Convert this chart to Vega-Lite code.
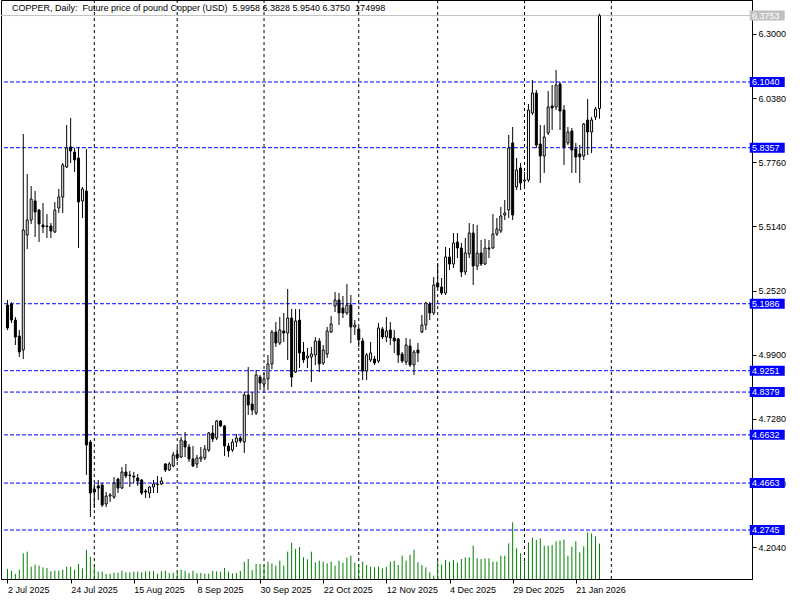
{
 "$schema": "https://vega.github.io/schema/vega-lite/v6.json",
 "width": 751,
 "height": 579,
 "autosize": {"type": "none"},
 "padding": {"left": 1, "top": 0, "right": 48, "bottom": 21},
 "background": "white",
 "config": {"view": {"stroke": "black", "strokeWidth": 1}, "font": "Liberation Sans"},
 "datasets": {
  "caption": [{"t": "COPPER, Daily:\u00a0 Future price of pound Copper (USD)\u00a0 5.9958 6.3828 5.9540 6.3750\u00a0 174998"}],
  "grid": [{"g": 22}, {"g": 43}, {"g": 65}, {"g": 89}, {"g": 109}, {"g": 131}, {"g": 153}],
  "levels": [
   {"v": 6.3753, "k": "last"}, {"v": 6.1040, "k": "level"}, {"v": 5.8357, "k": "level"}, {"v": 5.1986, "k": "level"},
   {"v": 4.9251, "k": "level"}, {"v": 4.8379, "k": "level"}, {"v": 4.6632, "k": "level"}, {"v": 4.4663, "k": "level"}, {"v": 4.2745, "k": "level"}
  ],
  "bars": [
{"i":0,"o":5.1934,"h":5.2138,"l":5.0913,"c":5.0995,"v":49570},
{"i":1,"o":5.1975,"h":5.2057,"l":5.1199,"c":5.1321,"v":41308},
{"i":2,"o":5.1321,"h":5.1444,"l":5.0301,"c":5.0628,"v":24785},
{"i":3,"o":5.0668,"h":5.0913,"l":4.9810,"c":5.0015,"v":46265},
{"i":4,"o":5.0096,"h":5.8916,"l":4.9729,"c":5.4996,"v":127228},
{"i":5,"o":5.4792,"h":5.7283,"l":5.4221,"c":5.5405,"v":135490},
{"i":6,"o":5.5405,"h":5.6793,"l":5.5241,"c":5.6262,"v":61136},
{"i":7,"o":5.6181,"h":5.6589,"l":5.4710,"c":5.5731,"v":71050},
{"i":8,"o":5.5813,"h":5.5854,"l":5.4506,"c":5.5241,"v":66093},
{"i":9,"o":5.5201,"h":5.6099,"l":5.4874,"c":5.5119,"v":57831},
{"i":10,"o":5.5160,"h":5.5650,"l":5.4670,"c":5.5140,"v":54527},
{"i":11,"o":5.5160,"h":5.5282,"l":5.4670,"c":5.4956,"v":38004},
{"i":12,"o":5.4915,"h":5.6140,"l":5.4874,"c":5.5813,"v":41308},
{"i":13,"o":5.5895,"h":5.6671,"l":5.5691,"c":5.6344,"v":41308},
{"i":14,"o":5.6344,"h":5.7732,"l":5.5691,"c":5.7651,"v":46265},
{"i":15,"o":5.7569,"h":5.9284,"l":5.7528,"c":5.8345,"v":61136},
{"i":16,"o":5.8386,"h":5.9570,"l":5.7732,"c":5.8222,"v":61136},
{"i":17,"o":5.8181,"h":5.8345,"l":5.7365,"c":5.7855,"v":46265},
{"i":18,"o":5.7936,"h":5.8386,"l":5.4261,"c":5.6140,"v":74354},
{"i":19,"o":5.6181,"h":5.6752,"l":5.5486,"c":5.6671,"v":52874},
{"i":20,"o":5.6589,"h":5.8304,"l":4.4992,"c":4.6217,"v":145403},
{"i":21,"o":4.6340,"h":4.6421,"l":4.3277,"c":4.4257,"v":110705},
{"i":22,"o":4.4421,"h":4.4625,"l":4.3645,"c":4.4298,"v":61136},
{"i":23,"o":4.4543,"h":4.4788,"l":4.3971,"c":4.4461,"v":36351},
{"i":24,"o":4.4584,"h":4.4666,"l":4.3686,"c":4.3767,"v":36351},
{"i":25,"o":4.3808,"h":4.4298,"l":4.3686,"c":4.4135,"v":24785},
{"i":26,"o":4.4135,"h":4.4257,"l":4.3890,"c":4.4176,"v":26437},
{"i":27,"o":4.4094,"h":4.4911,"l":4.4012,"c":4.4666,"v":31394},
{"i":28,"o":4.4829,"h":4.4870,"l":4.4257,"c":4.4461,"v":31394},
{"i":29,"o":4.4461,"h":4.5319,"l":4.4421,"c":4.5115,"v":41308},
{"i":30,"o":4.5115,"h":4.5441,"l":4.4870,"c":4.4952,"v":33046},
{"i":31,"o":4.4992,"h":4.5155,"l":4.4502,"c":4.4972,"v":33046},
{"i":32,"o":4.4952,"h":4.5115,"l":4.4666,"c":4.4911,"v":36351},
{"i":33,"o":4.4870,"h":4.5033,"l":4.4543,"c":4.4747,"v":36351},
{"i":34,"o":4.4788,"h":4.4829,"l":4.4176,"c":4.4257,"v":33046},
{"i":35,"o":4.4339,"h":4.4421,"l":4.4053,"c":4.4298,"v":38004},
{"i":36,"o":4.4257,"h":4.4543,"l":4.4053,"c":4.4502,"v":38004},
{"i":37,"o":4.4502,"h":4.4788,"l":4.4257,"c":4.4625,"v":39655},
{"i":38,"o":4.4625,"h":4.4952,"l":4.4257,"c":4.4604,"v":26437},
{"i":39,"o":4.4625,"h":4.4911,"l":4.4584,"c":4.4747,"v":38004},
{"i":40,"o":4.5441,"h":4.5482,"l":4.5115,"c":4.5197,"v":41308},
{"i":41,"o":4.5197,"h":4.5523,"l":4.5155,"c":4.5441,"v":29741},
{"i":42,"o":4.5360,"h":4.5932,"l":4.5319,"c":4.5809,"v":31394},
{"i":43,"o":4.5850,"h":4.6135,"l":4.5564,"c":4.5687,"v":33046},
{"i":44,"o":4.5727,"h":4.6544,"l":4.5687,"c":4.6421,"v":46265},
{"i":45,"o":4.6381,"h":4.6748,"l":4.5727,"c":4.6135,"v":41308},
{"i":46,"o":4.6135,"h":4.6258,"l":4.5523,"c":4.5646,"v":29741},
{"i":47,"o":4.5646,"h":4.6176,"l":4.5319,"c":4.5360,"v":41308},
{"i":48,"o":4.5441,"h":4.5809,"l":4.5278,"c":4.5687,"v":28089},
{"i":49,"o":4.5646,"h":4.6135,"l":4.5523,"c":4.5727,"v":29741},
{"i":50,"o":4.5687,"h":4.6217,"l":4.5605,"c":4.6054,"v":26437},
{"i":51,"o":4.6013,"h":4.6748,"l":4.5932,"c":4.6707,"v":26437},
{"i":52,"o":4.6707,"h":4.7034,"l":4.6340,"c":4.6462,"v":39655},
{"i":53,"o":4.6503,"h":4.7238,"l":4.6421,"c":4.7197,"v":38004},
{"i":54,"o":4.7197,"h":4.7238,"l":4.6952,"c":4.6993,"v":36351},
{"i":55,"o":4.6993,"h":4.7034,"l":4.5768,"c":4.6176,"v":54527},
{"i":56,"o":4.6176,"h":4.6299,"l":4.5727,"c":4.5972,"v":36351},
{"i":57,"o":4.6013,"h":4.6462,"l":4.5932,"c":4.6340,"v":28089},
{"i":58,"o":4.6340,"h":4.6666,"l":4.6135,"c":4.6503,"v":29741},
{"i":59,"o":4.6503,"h":4.6585,"l":4.6299,"c":4.6381,"v":39655},
{"i":60,"o":4.6340,"h":4.8381,"l":4.5891,"c":4.8259,"v":85920},
{"i":61,"o":4.8259,"h":4.9402,"l":4.7442,"c":4.7851,"v":99138},
{"i":62,"o":4.7891,"h":4.8381,"l":4.7442,"c":4.7646,"v":44612},
{"i":63,"o":4.7524,"h":4.9280,"l":4.7442,"c":4.9076,"v":74354},
{"i":64,"o":4.8994,"h":4.9076,"l":4.8463,"c":4.8749,"v":74354},
{"i":65,"o":4.8708,"h":4.9157,"l":4.8463,"c":4.8912,"v":66093},
{"i":66,"o":4.8912,"h":4.9892,"l":4.8463,"c":4.9525,"v":85920},
{"i":67,"o":4.9525,"h":5.0913,"l":4.9320,"c":5.0831,"v":77658},
{"i":68,"o":5.0831,"h":5.1240,"l":5.0219,"c":5.0382,"v":66093},
{"i":69,"o":5.0382,"h":5.1444,"l":5.0301,"c":5.0913,"v":90877},
{"i":70,"o":5.0872,"h":5.1607,"l":5.0423,"c":5.0791,"v":66093},
{"i":71,"o":5.0791,"h":5.2587,"l":4.9688,"c":5.1403,"v":135490},
{"i":72,"o":5.1403,"h":5.1771,"l":4.8586,"c":4.8994,"v":180101},
{"i":73,"o":4.9198,"h":5.1771,"l":4.9157,"c":5.1281,"v":148707},
{"i":74,"o":5.1321,"h":5.1771,"l":4.9361,"c":4.9974,"v":158621},
{"i":75,"o":5.0015,"h":5.0423,"l":4.9565,"c":4.9688,"v":107400},
{"i":76,"o":4.9770,"h":5.0178,"l":4.9361,"c":4.9852,"v":97486},
{"i":77,"o":4.9811,"h":5.0219,"l":4.8790,"c":4.9933,"v":135490},
{"i":78,"o":4.9892,"h":5.0627,"l":4.9484,"c":5.0464,"v":82615},
{"i":79,"o":5.0464,"h":5.0586,"l":4.9198,"c":4.9525,"v":90877},
{"i":80,"o":4.9566,"h":5.0301,"l":4.9484,"c":5.0096,"v":85920},
{"i":81,"o":4.9933,"h":5.1036,"l":4.9770,"c":5.0872,"v":77658},
{"i":82,"o":5.0831,"h":5.1485,"l":5.0791,"c":5.1158,"v":85920},
{"i":83,"o":5.1893,"h":5.2465,"l":5.1648,"c":5.2138,"v":66093},
{"i":84,"o":5.2138,"h":5.2424,"l":5.1117,"c":5.1607,"v":90877},
{"i":85,"o":5.1812,"h":5.2301,"l":5.1403,"c":5.1607,"v":80963},
{"i":86,"o":5.1607,"h":5.2791,"l":5.1526,"c":5.1934,"v":105747},
{"i":87,"o":5.1934,"h":5.2342,"l":5.0382,"c":5.1036,"v":115661},
{"i":88,"o":5.1036,"h":5.1321,"l":5.0709,"c":5.1117,"v":80963},
{"i":89,"o":5.0954,"h":5.1036,"l":5.0219,"c":5.0505,"v":66093},
{"i":90,"o":5.0464,"h":5.0586,"l":4.8871,"c":4.9239,"v":85920},
{"i":91,"o":4.9239,"h":4.9974,"l":4.8871,"c":4.9892,"v":69397},
{"i":92,"o":4.9688,"h":5.0423,"l":4.9606,"c":4.9974,"v":61136},
{"i":93,"o":4.9729,"h":4.9852,"l":4.9484,"c":4.9566,"v":57831},
{"i":94,"o":4.9647,"h":5.1199,"l":4.9566,"c":5.0995,"v":61136},
{"i":95,"o":5.0954,"h":5.1036,"l":5.0545,"c":5.0627,"v":52874},
{"i":96,"o":5.0627,"h":5.1444,"l":5.0423,"c":5.0872,"v":61136},
{"i":97,"o":5.0913,"h":5.1240,"l":5.0301,"c":5.0586,"v":85920},
{"i":98,"o":5.0586,"h":5.0913,"l":4.9974,"c":5.0464,"v":90877},
{"i":99,"o":5.0545,"h":5.0586,"l":4.9566,"c":4.9892,"v":69397},
{"i":100,"o":4.9933,"h":5.0015,"l":4.9566,"c":4.9647,"v":115661},
{"i":101,"o":4.9606,"h":5.0586,"l":4.9484,"c":5.0301,"v":90877},
{"i":102,"o":5.0260,"h":5.0545,"l":4.9402,"c":4.9484,"v":120618},
{"i":103,"o":4.9484,"h":5.0096,"l":4.9076,"c":5.0015,"v":145403},
{"i":104,"o":5.0096,"h":5.0382,"l":4.9606,"c":4.9974,"v":82615},
{"i":105,"o":5.0831,"h":5.1526,"l":5.0791,"c":5.1117,"v":69397},
{"i":106,"o":5.1117,"h":5.2057,"l":5.0913,"c":5.2016,"v":57831},
{"i":107,"o":5.1975,"h":5.2057,"l":5.1321,"c":5.1607,"v":33046},
{"i":108,"o":5.1607,"h":5.3077,"l":5.1526,"c":5.2751,"v":16523},
{"i":109,"o":5.2832,"h":5.3649,"l":5.2628,"c":5.2669,"v":95833},
{"i":110,"o":5.2669,"h":5.3036,"l":5.2342,"c":5.2424,"v":71050},
{"i":111,"o":5.2424,"h":5.4302,"l":5.2342,"c":5.3894,"v":94181},
{"i":112,"o":5.3894,"h":5.4261,"l":5.3363,"c":5.3608,"v":85920},
{"i":113,"o":5.3608,"h":5.4874,"l":5.3445,"c":5.4466,"v":94181},
{"i":114,"o":5.4506,"h":5.4874,"l":5.3853,"c":5.4261,"v":80963},
{"i":115,"o":5.4261,"h":5.4466,"l":5.3077,"c":5.3281,"v":99138},
{"i":116,"o":5.3281,"h":5.4670,"l":5.3159,"c":5.4057,"v":107400},
{"i":117,"o":5.4017,"h":5.5282,"l":5.3853,"c":5.4874,"v":107400},
{"i":118,"o":5.4874,"h":5.5241,"l":5.2751,"c":5.3527,"v":165230},
{"i":119,"o":5.3527,"h":5.5201,"l":5.3363,"c":5.4057,"v":102443},
{"i":120,"o":5.4057,"h":5.4588,"l":5.3527,"c":5.3608,"v":99138},
{"i":121,"o":5.3608,"h":5.4629,"l":5.3567,"c":5.4261,"v":102443},
{"i":122,"o":5.4261,"h":5.4588,"l":5.3853,"c":5.4221,"v":102443},
{"i":123,"o":5.4261,"h":5.5650,"l":5.4221,"c":5.4833,"v":85920},
{"i":124,"o":5.4833,"h":5.5487,"l":5.4751,"c":5.5037,"v":85920},
{"i":125,"o":5.4955,"h":5.5936,"l":5.4874,"c":5.5568,"v":115661},
{"i":126,"o":5.5609,"h":5.6221,"l":5.5405,"c":5.5691,"v":115661},
{"i":127,"o":5.5813,"h":5.8876,"l":5.5487,"c":5.8345,"v":176796},
{"i":128,"o":5.8549,"h":5.9202,"l":5.5405,"c":5.5609,"v":280891},
{"i":129,"o":5.6752,"h":5.7936,"l":5.6630,"c":5.7446,"v":152012},
{"i":130,"o":5.7528,"h":5.7732,"l":5.6630,"c":5.6915,"v":127228},
{"i":131,"o":5.6997,"h":5.7365,"l":5.6711,"c":5.7038,"v":85920},
{"i":132,"o":5.7038,"h":6.0141,"l":5.6956,"c":5.9896,"v":181753},
{"i":133,"o":5.9774,"h":6.1121,"l":5.9692,"c":6.0591,"v":204885},
{"i":134,"o":6.0591,"h":6.0713,"l":5.8345,"c":5.8467,"v":193319},
{"i":135,"o":5.8508,"h":5.9284,"l":5.6915,"c":5.8018,"v":201581},
{"i":136,"o":5.8018,"h":5.9284,"l":5.7324,"c":5.8794,"v":165230},
{"i":137,"o":5.8957,"h":6.0672,"l":5.8876,"c":6.0019,"v":165230},
{"i":138,"o":6.0060,"h":6.0917,"l":5.9080,"c":5.9978,"v":168535},
{"i":139,"o":6.0019,"h":6.1530,"l":5.9896,"c":6.0917,"v":186710},
{"i":140,"o":6.0958,"h":6.1040,"l":5.9080,"c":5.9856,"v":190015},
{"i":141,"o":5.9896,"h":6.0101,"l":5.7651,"c":5.8386,"v":194971},
{"i":142,"o":5.8549,"h":5.9202,"l":5.8467,"c":5.8998,"v":115661},
{"i":143,"o":5.9039,"h":5.9161,"l":5.7324,"c":5.8263,"v":160273},
{"i":144,"o":5.8304,"h":5.8549,"l":5.7324,"c":5.7977,"v":186710},
{"i":145,"o":5.8100,"h":5.8467,"l":5.6915,"c":5.7977,"v":132184},
{"i":146,"o":5.8018,"h":5.9366,"l":5.7855,"c":5.9325,"v":161925},
{"i":147,"o":5.9488,"h":6.0346,"l":5.8059,"c":5.8998,"v":231322},
{"i":148,"o":5.8998,"h":5.9611,"l":5.8141,"c":5.9488,"v":226365},
{"i":149,"o":5.9611,"h":6.0019,"l":5.9488,"c":5.9937,"v":211494},
{"i":150,"o":5.9958,"h":6.3828,"l":5.9540,"c":6.3750,"v":174998}
  ]
 },
 "layer": [
  {
   "data": {"name": "grid"},
   "mark": {"type": "rule", "color": "black", "strokeWidth": 1, "strokeDash": [3, 3]},
   "encoding": {
    "x": {"field": "g", "type": "quantitative",
     "scale": {"domain": [-0.375, 187.375], "nice": false, "zero": false},
     "axis": {"title": null, "values": [0, 16, 32, 48, 64, 80, 96, 112, 128, 144],
      "labelExpr": "['2 Jul 2025','24 Jul 2025','15 Aug 2025','8 Sep 2025','30 Sep 2025','22 Oct 2025','12 Nov 2025','4 Dec 2025','29 Dec 2025','21 Jan 2026'][round(datum.value/16)]",
      "labelAlign": "left", "labelBaseline": "top", "labelPadding": 2, "tickSize": 4, "tickColor": "black", "domainColor": "black",
      "labelColor": "black", "labelFont": "Liberation Sans", "labelFontSize": 9, "labelFlush": false, "labelOverlap": false, "grid": false}}
   }
  },
  {
   "data": {"name": "bars"},
   "mark": {"type": "rule", "color": "#008000", "strokeWidth": 1},
   "encoding": {
    "x": {"field": "i", "type": "quantitative"},
    "y": {"field": "v", "type": "quantitative", "scale": {"domain": [0, 2870000], "nice": false}, "axis": null},
    "y2": {"datum": 0}
   }
  },
  {
   "layer": [
    {
     "data": {"name": "levels"},
     "transform": [{"filter": "datum.k == 'last'"}],
     "mark": {"type": "rule", "color": "#c0c0c0", "strokeWidth": 1},
     "encoding": {
      "y": {"field": "v", "type": "quantitative",
       "scale": {"domain": [4.0746, 6.4388], "nice": false, "zero": false},
       "axis": {"orient": "right", "title": null, "format": ".4f",
        "values": [6.3, 6.169, 6.038, 5.907, 5.776, 5.645, 5.514, 5.383, 5.252, 5.121, 4.99, 4.859, 4.728, 4.597, 4.466, 4.335, 4.204],
        "tickSize": 4, "labelPadding": 2, "tickColor": "black", "domainColor": "black", "labelColor": "black",
        "labelFont": "Liberation Sans", "labelFontSize": 9, "labelOverlap": false, "labelFlush": false, "grid": false}}
     }
    },
    {
     "data": {"name": "levels"},
     "transform": [{"filter": "datum.k == 'level'"}],
     "mark": {"type": "rule", "color": "#0000ff", "strokeWidth": 1, "strokeDash": [4, 2]},
     "encoding": {"y": {"field": "v", "type": "quantitative"}}
    },
    {
     "data": {"name": "bars"},
     "mark": {"type": "rule", "color": "black", "strokeWidth": 1},
     "encoding": {
      "x": {"field": "i", "type": "quantitative"},
      "y": {"field": "l", "type": "quantitative"},
      "y2": {"field": "h"}
     }
    },
    {
     "data": {"name": "bars"},
     "mark": {"type": "bar", "width": 2, "stroke": "black", "strokeWidth": 1},
     "encoding": {
      "x": {"field": "i", "type": "quantitative"},
      "y": {"field": "o", "type": "quantitative"},
      "y2": {"field": "c"},
      "fill": {"condition": {"test": "datum.c < datum.o", "value": "black"}, "value": "white"}
     }
    },
    {
     "data": {"name": "levels"},
     "mark": {"type": "point", "filled": true, "opacity": 1, "size": 1225, "shape": "M-1,-0.286L1,-0.286L1,0.286L-1,0.286Z"},
     "encoding": {
      "x": {"datum": 192.5, "type": "quantitative"},
      "y": {"field": "v", "type": "quantitative"},
      "color": {"condition": {"test": "datum.k == 'last'", "value": "#c0c0c0"}, "value": "#0000ff"}
     }
    },
    {
     "data": {"name": "levels"},
     "mark": {"type": "text", "align": "left", "baseline": "middle", "color": "white", "font": "Liberation Sans", "fontSize": 9},
     "encoding": {
      "x": {"datum": 188.625, "type": "quantitative"},
      "y": {"field": "v", "type": "quantitative"},
      "text": {"field": "v", "type": "quantitative", "format": ".4f"}
     }
    },
    {
     "data": {"name": "caption"},
     "mark": {"type": "text", "align": "left", "baseline": "middle", "color": "black", "font": "Liberation Sans", "fontSize": 9},
     "encoding": {
      "x": {"datum": 1.125, "type": "quantitative"},
      "y": {"datum": 6.4061, "type": "quantitative"},
      "text": {"field": "t", "type": "nominal"}
     }
    }
   ]
  }
 ],
 "resolve": {"scale": {"y": "independent"}}
}
